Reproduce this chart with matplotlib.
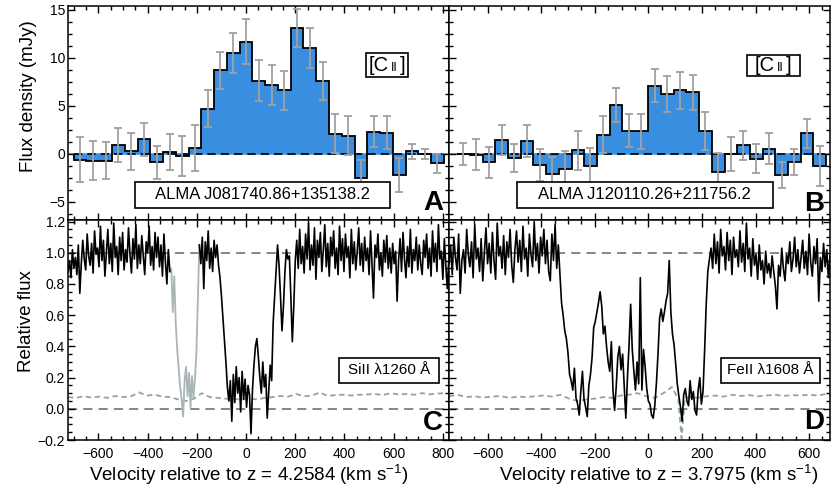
import numpy as np
import matplotlib.pyplot as plt
from matplotlib.patches import Rectangle
from matplotlib.offsetbox import TextArea, HPacker, AnchoredOffsetbox
from matplotlib.ticker import MultipleLocator

plt.rcParams['font.family'] = ['Liberation Sans', 'DejaVu Sans']
plt.rcParams['mathtext.fontset'] = 'custom'
plt.rcParams['mathtext.rm'] = 'Liberation Sans'
plt.rcParams['mathtext.it'] = 'Liberation Sans:italic'

BLUE = '#3a8ee0'
ERRBAR = '#a0a0a0'
BLEND = '#a9b5b7'
NOISE = '#8fa4aa'

# ---- [CII] spectra (ALMA), channel centres in km/s, flux in mJy ----
chan_a = 51.9
vel_a = [-675, -623, -571, -519, -467, -415, -363, -311, -259, -207,
         -156, -104, -52, 0, 52, 104, 156, 207, 259, 311,
         363, 415, 467, 519, 571, 623, 675, 726, 778]
flux_a = [-0.6, -0.7, -0.7, 0.9, 0.25, 1.5, -0.9, 0.2, -0.2, 0.6,
          4.7, 8.7, 10.5, 11.7, 7.6, 7.2, 6.6, 13.1, 11.0, 7.6,
          2.1, 1.9, -2.5, 2.3, 2.2, -2.2, 0.25, 0.0, -1.0]
err_a = [2.3, 2.0, 1.9, 1.8, 1.9, 1.75, 1.75, 1.9, 2.1, 2.4,
         1.95, 1.9, 2.1, 2.3, 2.15, 2.1, 2.05, 1.95, 2.1, 1.95,
         2.0, 2.05, 1.9, 1.6, 1.7, 1.8, 0.8, 0.5, 1.0]

chan_b = 47.4
vel_b = [-690, -642, -595, -547, -500, -452, -405, -358, -310, -263,
         -216, -168, -121, -73, -26, 24, 71, 118, 166, 213,
         261, 308, 355, 403, 450, 498, 545, 592, 640]
flux_b = [0.0, -0.1, -0.9, 1.45, -0.45, 1.35, -1.15, -2.1, -1.6, 0.35,
          -1.25, 2.0, 5.1, 2.4, 2.35, 7.1, 6.25, 6.6, 6.4, 2.4,
          -1.85, 0.0, 0.9, -0.5, 0.55, -2.2, -0.85, 2.15, -1.3]
err_b = [1.15, 1.6, 1.65, 1.55, 1.5, 1.7, 1.7, 1.8, 1.9, 2.0,
         1.9, 1.9, 1.75, 1.7, 1.8, 1.75, 1.9, 1.9, 1.8, 2.0,
         1.9, 1.8, 1.5, 1.5, 1.6, 1.35, 1.4, 1.5, 2.1]

# ---- optical absorption spectra, 6 km/s pixels ----
sill_vel = np.arange(-724, 825, 6)
sill_flux = [
    0.88, 0.95, 0.84, 1.02, 0.90, 0.97, 0.86, 1.05, 0.74, 0.93, 1.08, 0.96, 0.89, 1.12, 0.98, 0.92, 1.06, 0.87, 1.14, 0.99,
    1.03, 0.91, 1.17, 0.95, 1.08, 0.85, 1.00, 1.15, 0.93, 1.06, 0.88, 1.19, 0.97, 1.04, 0.86, 1.10, 0.95, 1.13, 0.89, 1.02,
    0.94, 1.16, 0.99, 0.87, 1.09, 0.96, 1.18, 0.90, 1.05, 0.93, 1.11, 0.98, 0.86, 1.07, 1.00, 1.17, 0.92, 1.04, 0.89, 1.13,
    0.97, 1.10, 0.91, 1.05, 0.85, 1.12, 0.94, 0.80, 1.02, 0.88, 0.90, 0.62, 0.85, 0.55, 0.38, 0.26, 0.14, 0.06, -0.05, 0.18,
    0.27, 0.08, 0.23, 0.01, 0.21, 0.07, 0.19, 0.36, 0.70, 1.05, 0.93, 1.10, 0.77, 1.07, 0.95, 1.14, 0.90, 1.03, 0.88, 1.08,
    0.97, 1.05, 0.92, 0.84, 0.72, 0.58, 0.45, 0.30, 0.14, 0.05, 0.18, -0.08, 0.22, 0.04, 0.27, 0.10, 0.20, -0.02, 0.24, 0.06,
    0.19, 0.01, 0.15, 0.09, -0.16, 0.12, 0.28, 0.40, 0.45, 0.33, 0.20, 0.10, 0.30, 0.14, 0.22, -0.06, 0.11, 0.28, 0.18, 0.55,
    0.72, 0.90, 1.05, 0.92, 0.72, 0.50, 0.66, 0.88, 1.02, 0.96, 0.98, 0.72, 0.43, 0.66, 0.95, 1.08, 0.90, 1.15, 0.93, 1.04,
    0.87, 1.12, 0.96, 1.19, 0.89, 1.05, 0.92, 1.16, 0.83, 1.08, 0.97, 1.13, 0.88, 1.02, 1.18, 0.91, 1.06, 0.85, 1.10, 0.98,
    1.14, 0.90, 1.03, 0.86, 1.17, 0.95, 1.09, 0.88, 1.12, 0.97, 1.04, 0.84, 1.15, 0.93, 1.07, 0.89, 1.01, 1.16, 0.92, 1.06,
    0.88, 1.10, 0.95, 1.03, 0.86, 1.14, 0.92, 0.71, 1.05, 0.97, 1.12, 0.89, 1.00, 0.85, 1.08, 0.94, 1.11, 0.90, 1.03, 0.87,
    1.06, 0.93, 1.01, 0.69, 0.95, 1.09, 0.88, 1.13, 0.96, 0.84, 1.04, 0.91, 1.15, 0.87, 1.02, 0.95, 1.10, 0.89, 1.05, 0.93,
    0.86, 1.08, 0.97, 1.12, 0.90, 1.03, 0.85, 1.14, 0.94, 1.06, 0.88, 1.18, 0.96, 1.01, 0.83, 1.09, 0.92, 0.77, 0.95,
]
# blended absorption from another line, drawn in grey
sill_blend = (-310, -190)
sill_err_vel = np.arange(-724, 813, 32)
sill_err = [0.075, 0.07, 0.08, 0.072, 0.078, 0.07, 0.082, 0.075, 0.08, 0.105,
            0.085, 0.09, 0.078, 0.075, 0.06, 0.05, 0.065, 0.10, 0.075, 0.07,
            0.065, 0.06, 0.062, 0.065, 0.06, 0.07, 0.075, 0.082, 0.078, 0.095,
            0.08, 0.085, 0.105, 0.082, 0.088, 0.09, 0.085, 0.09, 0.092, 0.095,
            0.088, 0.10, 0.092, 0.095, 0.09, 0.10, 0.093, 0.098, 0.10]

feii_vel = np.arange(-744, 679, 6)
feii_flux = [
    0.93, 1.05, 0.86, 1.10, 0.97, 0.89, 1.12, 0.74, 0.95, 1.02, 0.87, 1.15, 0.99, 0.91, 1.07, 0.84, 1.18, 0.96, 1.03, 0.88,
    1.09, 0.82, 1.00, 1.16, 0.93, 1.06, 0.87, 1.13, 0.95, 0.83, 1.19, 0.98, 1.04, 0.90, 1.11, 0.86, 1.07, 0.97, 1.15, 0.92,
    0.81, 1.02, 1.14, 0.94, 1.08, 0.88, 1.17, 0.96, 1.03, 0.85, 1.12, 0.99, 0.91, 1.20, 0.95, 1.06, 0.87, 1.10, 0.98, 1.15,
    0.93, 1.08, 0.88, 0.82, 1.12, 0.95, 1.18, 0.90, 1.05, 0.86, 0.68, 0.60, 0.50, 0.45, 0.36, 0.22, 0.18, 0.12, 0.26, 0.07,
    0.03, -0.04, 0.11, 0.24, 0.06, 0.01, -0.05, 0.15, 0.22, 0.33, 0.52, 0.56, 0.62, 0.68, 0.75, 0.66, 0.48, 0.53, 0.40, 0.30,
    0.24, 0.43, 0.12, -0.01, 0.14, 0.33, 0.40, 0.25, 0.35, 0.14, -0.06, 0.20, 0.41, 0.67, 0.38, 0.24, 0.12, 0.30, 0.16, 0.84,
    0.12, 0.38, 0.27, 0.13, 0.05, 0.03, -0.04, -0.06, 0.02, 0.16, 0.35, 0.58, 0.64, 0.56, 0.62, 0.69, 0.74, 0.95, 0.62, 0.48,
    0.41, 0.29, 0.16, 0.08, 0.01, -0.08, 0.09, 0.13, 0.05, 0.02, 0.18, 0.06, 0.11, -0.01, -0.04, 0.12, 0.20, 0.03, 0.11, 0.37,
    0.67, 0.88, 0.96, 1.03, 0.90, 1.12, 0.93, 1.07, 0.87, 1.15, 0.98, 1.04, 0.89, 1.13, 0.95, 1.08, 0.86, 1.10, 0.97, 1.02,
    0.91, 1.14, 0.94, 1.06, 0.88, 1.19, 0.96, 1.03, 0.85, 1.09, 0.92, 0.99, 0.83, 1.05, 0.89, 0.95, 0.80, 1.01, 0.87, 0.93,
    0.84, 0.98, 0.88, 0.79, 0.64, 0.92, 0.85, 1.03, 0.90, 0.82, 0.99, 0.93, 1.07, 0.88, 0.96, 1.10, 0.91, 1.02, 0.87, 0.97,
    1.08, 0.90, 1.01, 0.86, 1.12, 0.94, 0.85, 1.04, 0.93, 1.09, 0.69, 0.97, 0.88, 1.06, 0.91, 1.02, 0.84, 0.98,
]
feii_err_vel = [-744, -712, -680, -648, -616, -584, -552, -520, -488, -456,
                -424, -392, -360, -328, -296, -264, -232, -200, -168, -136,
                -104, -72, -40, -8, 24, 56, 88, 112, 124, 136,
                152, 184, 216, 248, 280, 312, 344, 376, 408, 440,
                472, 504, 536, 568, 600, 632, 664, 696]
feii_err = [0.08, 0.09, 0.075, 0.08, 0.072, 0.078, 0.082, 0.07, 0.078, 0.075,
            0.08, 0.085, 0.078, 0.09, 0.065, 0.05, 0.06, 0.065, 0.075, 0.07,
            0.085, 0.09, 0.10, 0.08, 0.07, 0.10, 0.14, 0.06, -0.19, 0.07,
            0.075, 0.07, 0.08, 0.085, 0.078, 0.09, 0.082, 0.088, 0.08, 0.085,
            0.09, 0.082, 0.088, 0.085, 0.09, 0.085, 0.095, 0.09]

XLIM_LEFT = (-724, 825)
XLIM_RIGHT = (-744, 678)


def style_axes(ax, ymajor, yminor, labelbottom, labelleft):
    ax.xaxis.set_major_locator(MultipleLocator(200))
    ax.xaxis.set_minor_locator(MultipleLocator(50))
    ax.yaxis.set_major_locator(MultipleLocator(ymajor))
    ax.yaxis.set_minor_locator(MultipleLocator(yminor))
    ax.tick_params(which='both', direction='in', top=True, right=True,
                   width=1.0, labelsize=10, labelbottom=labelbottom,
                   labelleft=labelleft)
    ax.tick_params(which='major', length=5)
    ax.tick_params(which='minor', length=2.8)
    ax.tick_params(axis='x', pad=5)
    ax.tick_params(axis='y', pad=2)
    for s in ax.spines.values():
        s.set_linewidth(1.1)


def boxed_text(ax, x0, y0, w, h, text, size):
    ax.add_patch(Rectangle((x0, y0), w, h, transform=ax.transAxes,
                           fc='white', ec='black', lw=1.2, zorder=6))
    ax.text(x0 + w / 2, y0 + h / 2, text, transform=ax.transAxes,
            ha='center', va='center', fontsize=size, zorder=7)


def cii_box(ax, x0, y0, w, h):
    ax.add_patch(Rectangle((x0, y0), w, h, transform=ax.transAxes,
                           fc='white', ec='black', lw=1.2, zorder=6))
    parts = [TextArea('[C', textprops=dict(size=14.5)),
             TextArea('II', textprops=dict(size=9)),
             TextArea(']', textprops=dict(size=14.5))]
    pack = HPacker(children=parts, align='baseline', pad=0, sep=1.5)
    anc = AnchoredOffsetbox(loc='center', child=pack, frameon=False, pad=0,
                            borderpad=0, bbox_to_anchor=(x0 + w / 2, y0 + h / 2),
                            bbox_transform=ax.transAxes)
    anc.set_zorder(7)
    ax.add_artist(anc)


def panel_letter(ax, x, y, letter):
    ax.text(x, y, letter, transform=ax.transAxes, ha='center', va='center',
            fontsize=20, fontweight='bold',
            family=['Liberation Sans Narrow', 'Liberation Sans'], zorder=7)


def line_panel(ax, centres, width, flux, err):
    c = np.asarray(centres, dtype=float)
    edges = np.append(c - width / 2, c[-1] + width / 2)
    ax.axhline(0, color='#4a9be8', lw=1.2, zorder=1)
    ax.stairs(flux, edges, baseline=0, fill=True, color=BLUE, zorder=2)
    ax.plot([edges[0], edges[-1]], [0, 0], color='black', ls=(0, (5, 3)),
            lw=1.2, zorder=3)
    ax.stairs(flux, edges, baseline=0, color='black', lw=1.3, zorder=4)
    ax.errorbar(c, flux, yerr=err, fmt='none', ecolor=ERRBAR, elinewidth=1.3,
                capsize=3, capthick=1.3, zorder=5)
    ax.set_ylim(-6.9, 15.4)


def abs_panel(ax, vel, flux, err_vel, err, blend=None):
    flux = np.asarray(flux, dtype=float)
    for lvl in (0.0, 1.0):
        ax.axhline(lvl, color='#666666', ls=(0, (6, 4)), lw=1.1, zorder=1)
    ax.plot(err_vel, err, color=NOISE, ls=(0, (3, 2)), lw=1.3, zorder=2)
    black = flux.copy()
    if blend is not None:
        inside = (vel >= blend[0]) & (vel <= blend[1])
        black[(vel > blend[0]) & (vel < blend[1])] = np.nan
        ax.plot(vel[inside], flux[inside], color=BLEND, lw=1.3, zorder=3)
    ax.plot(vel, black, color='black', lw=1.2, zorder=4)
    ax.set_ylim(-0.2, 1.21)


fig = plt.figure(figsize=(8.31, 4.90), dpi=100)
W, H = 831.0, 490.0
ax_a = fig.add_axes([68 / W, 1 - 220 / H, 381 / W, 214 / H])
ax_b = fig.add_axes([449 / W, 1 - 220 / H, 381 / W, 214 / H])
ax_c = fig.add_axes([68 / W, 1 - 440 / H, 381 / W, 220 / H])
ax_d = fig.add_axes([449 / W, 1 - 440 / H, 381 / W, 220 / H])

line_panel(ax_a, vel_a, chan_a, flux_a, err_a)
line_panel(ax_b, vel_b, chan_b, flux_b, err_b)
abs_panel(ax_c, sill_vel, sill_flux, sill_err_vel, sill_err, blend=sill_blend)
abs_panel(ax_d, feii_vel, feii_flux, feii_err_vel, feii_err)

for ax, lim in ((ax_a, XLIM_LEFT), (ax_c, XLIM_LEFT), (ax_b, XLIM_RIGHT), (ax_d, XLIM_RIGHT)):
    ax.set_xlim(*lim)

style_axes(ax_a, 5, 1.25, False, True)
style_axes(ax_b, 5, 1.25, False, False)
style_axes(ax_c, 0.2, 0.05, True, True)
style_axes(ax_d, 0.2, 0.05, True, False)

ax_a.set_ylabel('Flux density (mJy)', fontsize=13.5)
ax_a.yaxis.set_label_coords(-0.082, 0.577)
ax_c.set_ylabel('Relative flux', fontsize=13.5)
ax_c.yaxis.set_label_coords(-0.086, 0.539)

ax_c.set_xlabel(r'Velocity relative to z = 4.2584 (km s$^{\mathregular{-1}}$)', fontsize=13.5)
ax_c.xaxis.set_label_coords(0.475, -0.105)
ax_d.set_xlabel(r'Velocity relative to z = 3.7975 (km s$^{\mathregular{-1}}$)', fontsize=13.5)
ax_d.xaxis.set_label_coords(0.549, -0.105)

boxed_text(ax_a, 0.176, 0.056, 0.669, 0.122, 'ALMA J081740.86+135138.2', 12)
boxed_text(ax_b, 0.178, 0.056, 0.672, 0.122, 'ALMA J120110.26+211756.2', 12)
cii_box(ax_a, 0.782, 0.668, 0.110, 0.112)
cii_box(ax_b, 0.782, 0.673, 0.139, 0.098)
boxed_text(ax_c, 0.711, 0.259, 0.263, 0.114, 'SiII λ1260 Å', 11)
boxed_text(ax_d, 0.714, 0.259, 0.259, 0.114, 'FeII λ1608 Å', 11)

panel_letter(ax_a, 0.959, 0.078, 'A')
panel_letter(ax_b, 0.959, 0.077, 'B')
panel_letter(ax_c, 0.957, 0.077, 'C')
panel_letter(ax_d, 0.959, 0.082, 'D')

fig.savefig('out.png', dpi=100)
